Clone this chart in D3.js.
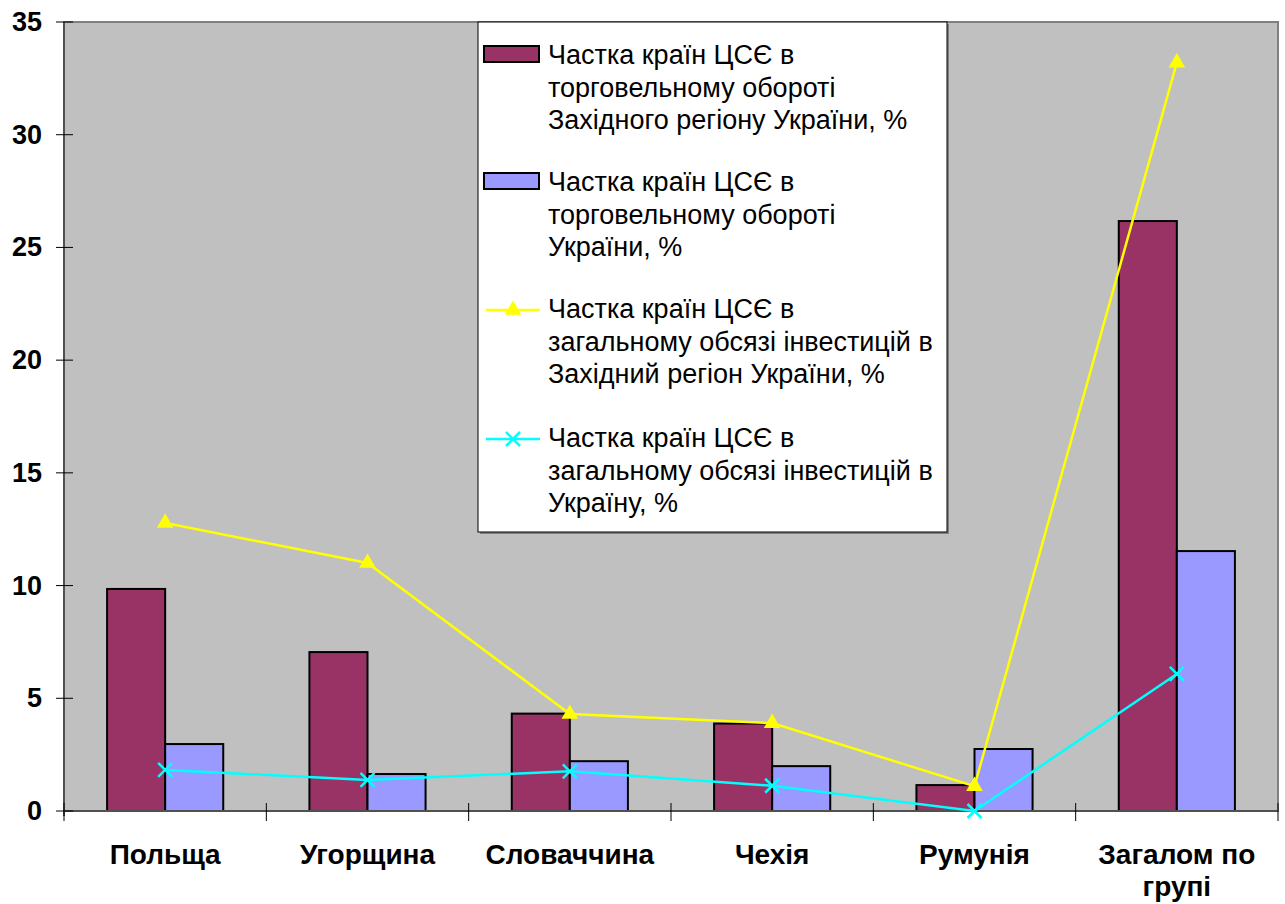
<!DOCTYPE html>
<html>
<head>
<meta charset="utf-8">
<script src="https://cdn.jsdelivr.net/npm/d3@7"></script>
<style>
  body { margin: 0; background: #fff; }
  svg { display: block; font-family: "Liberation Sans", Arial, sans-serif; }
</style>
</head>
<body>
<svg id="chart" width="1285" height="904"></svg>
<script>
// categories (label lines)
const categories = ['Польща', 'Угорщина', 'Словаччина', 'Чехія', 'Румунія', 'Загалом по групі'];
const categoryLines = [['Польща'], ['Угорщина'], ['Словаччина'], ['Чехія'], ['Румунія'], ['Загалом по', 'групі']];

// series values, %
const tradeWest = [9.85, 7.05, 4.32, 3.88, 1.15, 26.17];
const tradeUkraine = [2.97, 1.64, 2.21, 1.99, 2.75, 11.53];
const investWest = [12.78, 11.0, 4.3, 3.9, 1.1, 33.2];
const investUkraine = [1.82, 1.38, 1.76, 1.12, 0, 6.08];

const yTicks = [0, 5, 10, 15, 20, 25, 30, 35];

const legendLines = [
  ['Частка країн ЦСЄ в', 'торговельному обороті', 'Західного регіону України, %'],
  ['Частка країн ЦСЄ в', 'торговельному обороті', 'України, %'],
  ['Частка країн ЦСЄ в', 'загальному обсязі інвестицій в', 'Західний регіон України, %'],
  ['Частка країн ЦСЄ в', 'загальному обсязі інвестицій в', 'Україну, %']
];

const colors = { maroon: '#993366', blue: '#9999ff', yellow: '#ffff00', cyan: '#00ffff' };

const plotLeft = 64, plotRight = 1278, plotTop = 22, plotBottom = 811;
const svg = d3.select('#chart');

const x = d3.scaleBand().domain(categories).range([plotLeft, plotRight]);
const bw = x.bandwidth();
const x1 = d3.scaleBand().domain(['west', 'ukraine']).range([bw * 0.213, bw * 0.787]);
const y = d3.scaleLinear().domain([0, 35]).range([plotBottom, plotTop]);

// plot area
svg.append('rect')
  .attr('x', plotLeft).attr('y', plotTop)
  .attr('width', plotRight - plotLeft).attr('height', plotBottom - plotTop)
  .attr('fill', '#c0c0c0')
  .attr('stroke', '#808080').attr('stroke-width', 2);

// bars
const barSeries = [
  { key: 'west', values: tradeWest, color: colors.maroon },
  { key: 'ukraine', values: tradeUkraine, color: colors.blue }
];
barSeries.forEach(s => {
  svg.append('g').selectAll('rect')
    .data(s.values)
    .enter().append('rect')
    .attr('x', (d, i) => x(categories[i]) + x1(s.key))
    .attr('y', d => y(d))
    .attr('width', x1.bandwidth())
    .attr('height', d => y(0) - y(d))
    .attr('fill', s.color)
    .attr('stroke', '#000')
    .attr('stroke-width', 2);
});

// axes
svg.append('line')
  .attr('x1', plotLeft).attr('x2', plotLeft).attr('y1', plotTop).attr('y2', plotBottom + 5)
  .attr('stroke', '#505050').attr('stroke-width', 2);
svg.append('line')
  .attr('x1', plotLeft).attr('x2', plotRight).attr('y1', plotBottom).attr('y2', plotBottom)
  .attr('stroke', '#505050').attr('stroke-width', 2);

svg.append('g').selectAll('line')
  .data(yTicks)
  .enter().append('line')
  .attr('x1', plotLeft - 8).attr('x2', plotLeft + 9)
  .attr('y1', d => y(d)).attr('y2', d => y(d))
  .attr('stroke', '#000').attr('stroke-width', 1);

svg.append('g').selectAll('text')
  .data(yTicks)
  .enter().append('text')
  .attr('x', 42).attr('y', d => y(d))
  .attr('text-anchor', 'end')
  .attr('dominant-baseline', 'central')
  .attr('font-size', 27).attr('font-weight', 'bold')
  .text(d => d);

// x ticks at category boundaries
const xBounds = categories.map(c => x(c)).concat([plotRight]);
svg.append('g').selectAll('line')
  .data(xBounds)
  .enter().append('line')
  .attr('x1', d => d).attr('x2', d => d)
  .attr('y1', plotBottom - 8).attr('y2', plotBottom + 10)
  .attr('stroke', '#000').attr('stroke-width', 1);

const xLabels = svg.append('g').selectAll('text')
  .data(categoryLines)
  .enter().append('text')
  .attr('x', (d, i) => x(categories[i]) + bw / 2)
  .attr('y', 864)
  .attr('text-anchor', 'middle')
  .attr('font-size', 28).attr('font-weight', 'bold');
xLabels.selectAll('tspan')
  .data(d => d)
  .enter().append('tspan')
  .attr('x', function () { return d3.select(this.parentNode).attr('x'); })
  .attr('dy', (d, i) => i === 0 ? 0 : 32)
  .text(d => d);

// lines
const cx = i => x(categories[i]) + bw / 2;
const lineGen = d3.line().x((d, i) => cx(i)).y(d => y(d));

const triangle = d3.symbol().type(d3.symbolTriangle).size(120);
const cross = 'M-7,-7L7,7M-7,7L7,-7';

svg.append('path')
  .datum(investWest)
  .attr('d', lineGen)
  .attr('fill', 'none').attr('stroke', colors.yellow).attr('stroke-width', 2.5);
svg.append('g').selectAll('path')
  .data(investWest)
  .enter().append('path')
  .attr('transform', (d, i) => `translate(${cx(i)},${y(d)})`)
  .attr('d', triangle)
  .attr('fill', colors.yellow);

svg.append('path')
  .datum(investUkraine)
  .attr('d', lineGen)
  .attr('fill', 'none').attr('stroke', colors.cyan).attr('stroke-width', 2.5);
svg.append('g').selectAll('path')
  .data(investUkraine)
  .enter().append('path')
  .attr('transform', (d, i) => `translate(${cx(i)},${y(d)})`)
  .attr('d', cross)
  .attr('stroke', colors.cyan).attr('stroke-width', 2.5);

// legend
const lg = svg.append('g');
lg.append('rect')
  .attr('x', 480).attr('y', plotTop + 2)
  .attr('width', 469).attr('height', 510)
  .attr('fill', '#808080');
lg.append('rect')
  .attr('x', 478).attr('y', plotTop)
  .attr('width', 469).attr('height', 510)
  .attr('fill', '#fff').attr('stroke', '#000').attr('stroke-width', 1);

const legendBase = [64, 191, 318, 447];
legendLines.forEach((lines, k) => {
  const b = legendBase[k];
  const t = lg.append('text')
    .attr('x', 548).attr('y', b)
    .attr('font-size', 27);
  t.selectAll('tspan')
    .data(lines)
    .enter().append('tspan')
    .attr('x', 548)
    .attr('dy', (d, i) => i === 0 ? 0 : 32.5)
    .text(d => d);

  const sy = b - 10;
  if (k < 2) {
    lg.append('rect')
      .attr('x', 484).attr('y', sy - 8)
      .attr('width', 55).attr('height', 16)
      .attr('fill', k === 0 ? colors.maroon : colors.blue)
      .attr('stroke', '#000').attr('stroke-width', 2);
  } else {
    const c = k === 2 ? colors.yellow : colors.cyan;
    lg.append('line')
      .attr('x1', 486).attr('x2', 540).attr('y1', sy + 2).attr('y2', sy + 2)
      .attr('stroke', c).attr('stroke-width', 2.5);
    lg.append('path')
      .attr('transform', `translate(513,${sy + 2})`)
      .attr('d', k === 2 ? triangle : cross)
      .attr('fill', k === 2 ? c : 'none')
      .attr('stroke', k === 2 ? 'none' : c)
      .attr('stroke-width', 2.5);
  }
});
</script>
</body>
</html>
